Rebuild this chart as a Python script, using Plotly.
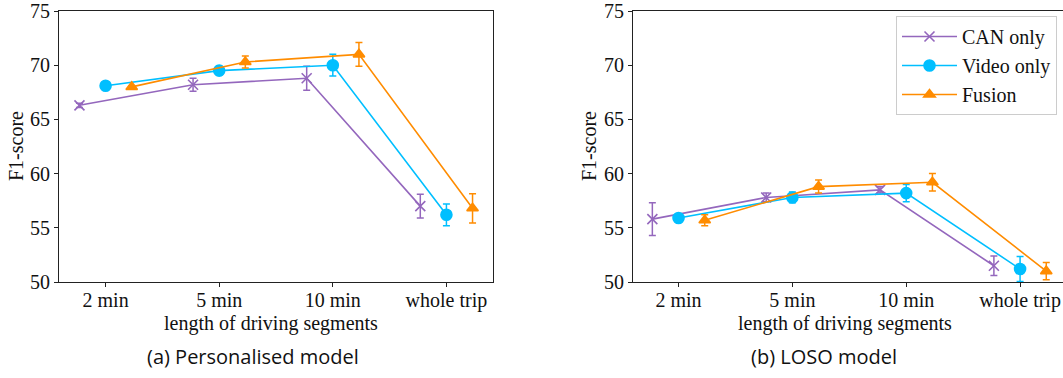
import plotly.graph_objects as go

categories = ["2 min", "5 min", "10 min", "whole trip"]
series_names = ["CAN only", "Video only", "Fusion"]

# (a) Personalised model
pers_can = [66.3, 68.2, 68.8, 57.0]
pers_can_err = [0.2, 0.6, 1.1, 1.1]
pers_video = [68.1, 69.5, 70.0, 56.2]
pers_video_err = [0.1, 0.4, 1.0, 1.0]
pers_fusion = [68.0, 70.3, 71.0, 56.8]
pers_fusion_err = [0.1, 0.55, 1.1, 1.35]

# (b) LOSO model
loso_can = [55.8, 57.8, 58.5, 51.5]
loso_can_err = [1.5, 0.4, 0.3, 0.9]
loso_video = [55.9, 57.8, 58.2, 51.2]
loso_video_err = [0.2, 0.5, 0.8, 1.15]
loso_fusion = [55.7, 58.8, 59.2, 51.0]
loso_fusion_err = [0.5, 0.6, 0.8, 0.8]

y_ticks = [50, 55, 60, 65, 70, 75]

colors = ["#9467bd", "#00bfff", "#ff8c00"]
symbols = ["x-thin-open", "circle", "triangle-up"]
sizes = [10, 11, 10]
dodge = [-0.23, 0.0, 0.23]

W, H = 1063, 378
serif = "Liberation Serif"
sans = "Open Sans"
FS = 20

fig = go.Figure()

panels = [
    ([pers_can, pers_video, pers_fusion], [pers_can_err, pers_video_err, pers_fusion_err], "x", "y"),
    ([loso_can, loso_video, loso_fusion], [loso_can_err, loso_video_err, loso_fusion_err], "x2", "y2"),
]

for p, (vals, errs, xa, ya) in enumerate(panels):
    for i, name in enumerate(series_names):
        xs = [k + dodge[i] for k in range(len(categories))]
        fig.add_trace(go.Scatter(
            x=xs, y=vals[i], mode="lines+markers", name=name,
            xaxis=xa, yaxis=ya, showlegend=(p == 1),
            line=dict(color=colors[i], width=1.6),
            marker=dict(symbol=symbols[i], size=sizes[i], color=colors[i],
                        line=dict(color=colors[i], width=1.6)),
            error_y=dict(type="data", array=errs[i], visible=True,
                         color=colors[i], thickness=1.5, width=3.5),
        ))

def px_x(v):
    return v / W

def px_y(v):
    return 1 - v / H

axis_common = dict(
    showline=True, linecolor="#222", linewidth=1, ticks="outside",
    ticklen=4, tickcolor="#222", showgrid=False, zeroline=False,
    automargin=False,
    tickfont=dict(family=serif, size=FS, color="#111"),
)

def ann(text, x, y, family, angle=0):
    return dict(text=text, x=px_x(x), y=px_y(y), xref="paper", yref="paper",
                xanchor="center", yanchor="middle", showarrow=False,
                textangle=angle, font=dict(family=family, size=FS, color="#111"))

fig.update_layout(
    width=W, height=H,
    margin=dict(l=0, r=0, t=0, b=0, autoexpand=False),
    paper_bgcolor="white", plot_bgcolor="white",
    xaxis=dict(domain=[px_x(59), px_x(493)], range=[-0.41, 3.41],
               tickvals=list(range(len(categories))), ticktext=categories,
               mirror=True, anchor="y", ticklabelstandoff=-4, **axis_common),
    yaxis=dict(domain=[px_y(282), px_y(11)], range=[50, 75], tickvals=y_ticks,
               mirror=True, anchor="x", **axis_common),
    xaxis2=dict(domain=[px_x(633), 1.0], range=[-0.40, 3.377],
                tickvals=list(range(len(categories))), ticktext=categories,
                mirror=True, anchor="y2", ticklabelstandoff=-4, **axis_common),
    yaxis2=dict(domain=[px_y(282), px_y(11)], range=[50, 75], tickvals=y_ticks,
                mirror=False, anchor="x2", **axis_common),
    legend=dict(x=px_x(896), y=px_y(16), xanchor="left", yanchor="top",
                bgcolor="white", bordercolor="#cccccc", borderwidth=1,
                font=dict(family=serif, size=FS, color="#111"),
                tracegroupgap=0, itemwidth=55),
    annotations=[
        ann("length of driving segments", 271, 323, serif),
        ann("length of driving segments", 845, 323, serif),
        ann("F1-score", 16, 146, serif, -90),
        ann("F1-score", 589, 146, serif, -90),
        ann("(a) Personalised model", 253, 356, sans),
        ann("(b) LOSO model", 824, 356, sans),
    ],
)

fig.write_html("out.html")
